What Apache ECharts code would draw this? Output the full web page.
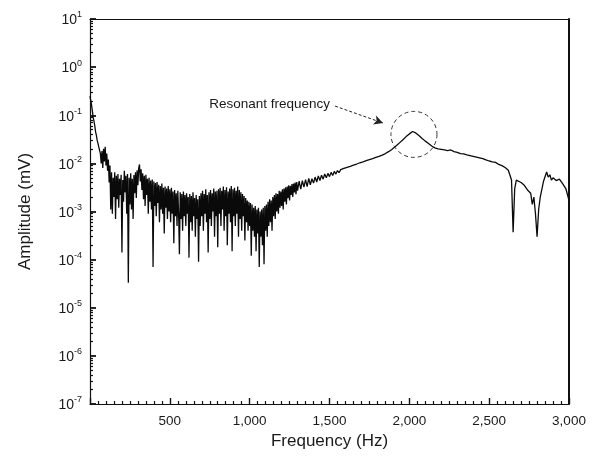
<!DOCTYPE html>
<html><head><meta charset="utf-8">
<script src="https://cdn.jsdelivr.net/npm/echarts@6/dist/echarts.min.js"></script>
<style>html,body{margin:0;padding:0;background:#fff}#c{width:600px;height:457px}</style>
</head><body><div id="c"></div><script>
// ---- data ----
const freqA = [0,5,10,15,20,25,30,35,40,45,50,55,60,65,70,75,80,85,90,95,
100,105,110,115,120,125,130,135,140,145,150,155,160,165,170,175,180,185,190,195,
200,205,210,215,220,225,230,235,240,245,250,255,260,265,270,275,280,285,290,295,
300,305,310,315,320,325,330,335,340,345,350,355,360,365,370,375,380,385,390,395,
400,405,410,415,420,425,430,435,440,445,450,455,460,465,470,475,480,485,490,495,
500,505,510,515,520,525,530,535,540,545,550,555,560,565,570,575,580,585,590,595,
600,605,610,615,620,625,630,635,640,645,650,655,660,665,670,675,680,685,690,695,
700,705,710,715,720,725,730,735,740,745,750,755,760,765,770,775,780,785,790,795,
800,805,810,815,820,825,830,835,840,845,850,855,860,865,870,875,880,885,890,895,
900,905,910,915,920,925,930,935,940,945,950,955,960,965,970,975,980,985,990,995,
1000,1005,1010,1015,1020,1025,1030,1035,1040,1045,1050,1055,1060,1065,1070,1075,1080,1085,1090,1095,
1100,1105,1110,1115,1120,1125,1130,1135,1140,1145,1150,1155,1160,1165,1170,1175,1180,1185,1190,1195,
1200,1205,1210,1215,1220,1225,1230,1235,1240,1245,1250,1255,1260,1265,1270,1275,1280,1285,1290,1295];
const ampA = [0.25,0.2,0.16,0.12,0.09,0.075,0.06,0.045,0.038,0.03,0.026,0.022,0.02,0.016,0.01,0.018,0.008,0.02,0.011,0.022,
0.009,0.016,0.007,0.012,0.004,0.009,0.0011,0.0065,0.0009,0.005,0.002,0.0065,0.0007,0.0055,0.0018,0.006,0.0012,0.0048,0.0022,0.0058,
0.00014,0.0045,0.0016,0.007,0.0025,0.0055,0.0009,0.006,0.000033,0.005,0.0014,0.0062,0.0011,0.0048,0.0007,0.0057,0.0024,0.0065,0.0019,0.0072,
0.0035,0.008,0.0095,0.0042,0.0075,0.0028,0.0062,0.0018,0.0055,0.0013,0.0058,0.0022,0.0048,0.0009,0.005,0.0016,0.0044,0.0011,0.0046,0.00007,
0.0042,0.0013,0.0039,0.0008,0.0041,0.0015,0.0036,0.0006,0.0034,0.0011,0.0038,0.0009,0.0031,0.00035,0.0033,0.0012,0.003,0.0007,0.0034,0.001,
0.0029,0.0006,0.0031,0.0009,0.0026,0.00022,0.0028,0.0008,0.0024,0.0005,0.0027,0.0009,0.00013,0.0025,0.0007,0.0023,0.0004,0.0026,0.0008,0.0022,
0.0005,0.0024,0.0009,0.002,0.00011,0.0023,0.0006,0.0021,0.0004,0.0025,0.0008,0.0019,0.0003,0.0022,0.0007,0.0018,0.00009,0.0021,0.0005,0.0024,
0.0008,0.0027,0.0004,0.0023,0.0009,0.0029,0.0006,0.0022,0.00014,0.0025,0.0007,0.0028,0.0005,0.0024,0.001,0.003,0.0003,0.0026,0.0008,0.0027,
0.00018,0.0029,0.0009,0.0031,0.0005,0.0027,0.0011,0.0033,0.0004,0.0028,0.0008,0.0032,0.0002,0.0026,0.0009,0.003,0.0006,0.0034,0.00015,0.0029,
0.0008,0.0031,0.0005,0.0027,0.0009,0.0033,0.0003,0.0028,0.0007,0.0025,0.0004,0.0023,0.0008,0.0021,0.00025,0.0019,0.0006,0.0017,0.0004,0.0016,
0.0005,0.0015,0.00012,0.0014,0.0004,0.0012,0.0003,0.0013,0.00015,0.0011,0.00035,0.0012,0.00007,0.001,0.0003,0.0011,0.0002,0.0012,0.00008,0.0013,
0.0004,0.0014,0.0003,0.0016,0.0005,0.0018,0.0006,0.0017,0.0004,0.002,0.0008,0.0022,0.0007,0.0024,0.001,0.0023,0.0009,0.0027,0.0012,0.0026,
0.0013,0.0029,0.0011,0.003,0.0016,0.0032,0.0014,0.0033,0.0019,0.0035,0.0017,0.0034,0.0022,0.0037,0.002,0.0038,0.0025,0.004,0.0023,0.0041];
const freqB = [1300,1310,1320,1330,1340,1350,1360,1370,1380,1390,
1400,1410,1420,1430,1440,1450,1460,1470,1480,1490,
1500,1510,1520,1530,1540,1550,1560,1570,1580,1590,
1600,1610,1620,1630,1640,1650,1660,1670,1680,1690,
1700,1710,1720,1730,1740,1750,1760,1770,1780,1790,
1800,1810,1820,1830,1840,1850,1860,1870,1880,1890];
const ampB = [0.0027,0.0043,0.0029,0.0044,0.0032,0.0046,0.0033,0.0049,0.0036,0.0048,
0.0039,0.0052,0.0041,0.0055,0.0044,0.0057,0.0047,0.006,0.005,0.0062,
0.0053,0.0065,0.0056,0.0068,0.006,0.0071,0.0064,0.0074,0.0068,0.0079,
0.0072,0.0083,0.0077,0.0087,0.0082,0.0092,0.0087,0.0097,0.0093,0.0103,
0.0099,0.0108,0.0105,0.0114,0.0111,0.012,0.0118,0.0126,0.0125,0.0133,
0.0133,0.014,0.0142,0.0149,0.0153,0.016,0.0167,0.0175,0.0183,0.0195];
const freqC = [1900,1920,1940,1960,1980,2000,2020,2040,2060,2080,
2100,2120,2140,2160,2180,2200,2220,2240,2260,2280,
2300,2320,2340,2360,2380,2400,2420,2440,2460,2480,
2500,2520,2540,2560,2580,2600,2620];
const ampC = [0.0205,0.0235,0.027,0.031,0.036,0.041,0.046,0.043,0.038,0.033,
0.029,0.026,0.023,0.021,0.02,0.0195,0.019,0.0185,0.019,0.0175,
0.017,0.016,0.0158,0.015,0.0145,0.014,0.0135,0.013,0.0125,0.0118,
0.0112,0.0108,0.0105,0.0095,0.009,0.0082,0.0072];
const freqD = [2630,2640,2650,2660,2670,2680,2700,2720,2740,2760,2770,2780,2790,2800,2810,2820,2840,2860,2870,2880,2890,2900,2920,2940,2960,2980,3000];
const ampD = [0.0068,0.0045,0.00037,0.003,0.0045,0.0048,0.004,0.0035,0.0028,0.0024,0.0014,0.002,0.0009,0.0003,0.0011,0.002,0.0042,0.0066,0.0052,0.0058,0.0045,0.005,0.0044,0.0047,0.0038,0.003,0.0017];
const yDecades = [1e-7,1e-6,1e-5,1e-4,1e-3,1e-2,1e-1,1,10];
const annotationText = 'Resonant frequency';

// ---- build ----
const freqs = freqA.concat(freqB, freqC, freqD);
const amps = ampA.concat(ampB, ampC, ampD);
const seriesData = freqs.map((f, i) => [f, amps[i]]);
const minorY = [];
yDecades.slice(0, -1).forEach(d => { for (let k = 2; k <= 9; k++) minorY.push(+(d * k).toPrecision(3)); });

const FONT = 'Liberation Sans, Arial, sans-serif';
const INK = '#111';
const chart = echarts.init(document.getElementById('c'), null, {renderer: 'canvas'});
chart.setOption({
  animation: false,
  backgroundColor: '#fff',
  grid: {left: 90, right: 31, top: 19, bottom: 53, show: false},
  xAxis: [{
    type: 'value', min: 0, max: 3000, interval: 500, position: 'bottom',
    name: 'Frequency (Hz)', nameLocation: 'middle', nameGap: 28,
    nameTextStyle: {fontFamily: FONT, fontSize: 17, color: '#1a1a1a'},
    axisLine: {show: true, onZero: false, lineStyle: {color: INK, width: 1.2}},
    axisTick: {show: true, inside: true, length: 6, lineStyle: {color: INK, width: 1.4}},
    minorTick: {show: true, splitNumber: 10, length: 3, lineStyle: {color: INK, width: 1.2}},
    splitLine: {show: false}, minorSplitLine: {show: false},
    axisLabel: {fontFamily: FONT, fontSize: 13.5, color: '#1a1a1a', margin: 10,
      formatter: v => v === 0 ? '' : v.toLocaleString('en-US')}
  }, {
    type: 'value', min: 0, max: 3000, position: 'top',
    axisLine: {show: true, onZero: false, lineStyle: {color: INK, width: 1.2}},
    axisTick: {show: false}, axisLabel: {show: false}, splitLine: {show: false}
  }],
  yAxis: [{
    type: 'log', logBase: 10, min: 1e-7, max: 10, interval: 1, position: 'left',
    name: 'Amplitude (mV)', nameLocation: 'middle', nameGap: 56, nameRotate: 90,
    nameTextStyle: {fontFamily: FONT, fontSize: 17, color: '#1a1a1a'},
    axisLine: {show: true, onZero: false, lineStyle: {color: INK, width: 1.2}},
    axisTick: {show: true, inside: true, length: 6, lineStyle: {color: INK, width: 1.8}},
    splitLine: {show: false},
    axisLabel: {
      margin: 8, fontFamily: FONT, color: '#1a1a1a',
      formatter: v => '{b|10}{s|' + Math.round(Math.log10(v)) + '}',
      rich: {
        b: {fontFamily: FONT, fontSize: 14, color: '#1a1a1a', verticalAlign: 'bottom'},
        s: {fontFamily: FONT, fontSize: 9, color: '#1a1a1a', verticalAlign: 'top', padding: [0, 0, 8, 0]}
      }
    }
  }, {
    type: 'log', logBase: 10, min: 1e-7, max: 10, position: 'left', offset: 0,
    axisLine: {show: false, onZero: false}, axisLabel: {show: false}, splitLine: {show: false},
    axisTick: {show: true, inside: true, length: 3, customValues: minorY, lineStyle: {color: INK, width: 1.2}}
  }, {
    type: 'log', logBase: 10, min: 1e-7, max: 10, position: 'right',
    axisLine: {show: true, onZero: false, lineStyle: {color: INK, width: 2}},
    axisTick: {show: false}, axisLabel: {show: false}, splitLine: {show: false}
  }],
  series: [{
    type: 'line', data: seriesData, showSymbol: false, symbol: 'none',
    lineStyle: {color: '#0a0a0a', width: 1.3}, sampling: null, silent: true,
    markLine: {
      silent: true, symbol: ['none', 'arrow'], symbolSize: [7, 9],
      lineStyle: {color: '#222', type: [3, 2], width: 1}, label: {show: false},
      data: [[{coord: [1535, 0.155]}, {coord: [1835, 0.069]}]]
    }
  }]
});

const cc = chart.convertToPixel({gridIndex: 0}, [2029, 0.04]);
const tp = chart.convertToPixel({gridIndex: 0}, [1503, 0.17]);
chart.setOption({
  graphic: [
    {type: 'circle', shape: {cx: cc[0], cy: cc[1], r: 23}, style: {fill: 'none', stroke: '#333', lineWidth: 1, lineDash: [4, 3]}, z: 100},
    {type: 'text', x: tp[0], y: tp[1], style: {text: annotationText, fontFamily: FONT, fontSize: 13.5, fill: '#1a1a1a', textAlign: 'right', textVerticalAlign: 'middle'}, z: 100}
  ]
});
</script></body></html>
